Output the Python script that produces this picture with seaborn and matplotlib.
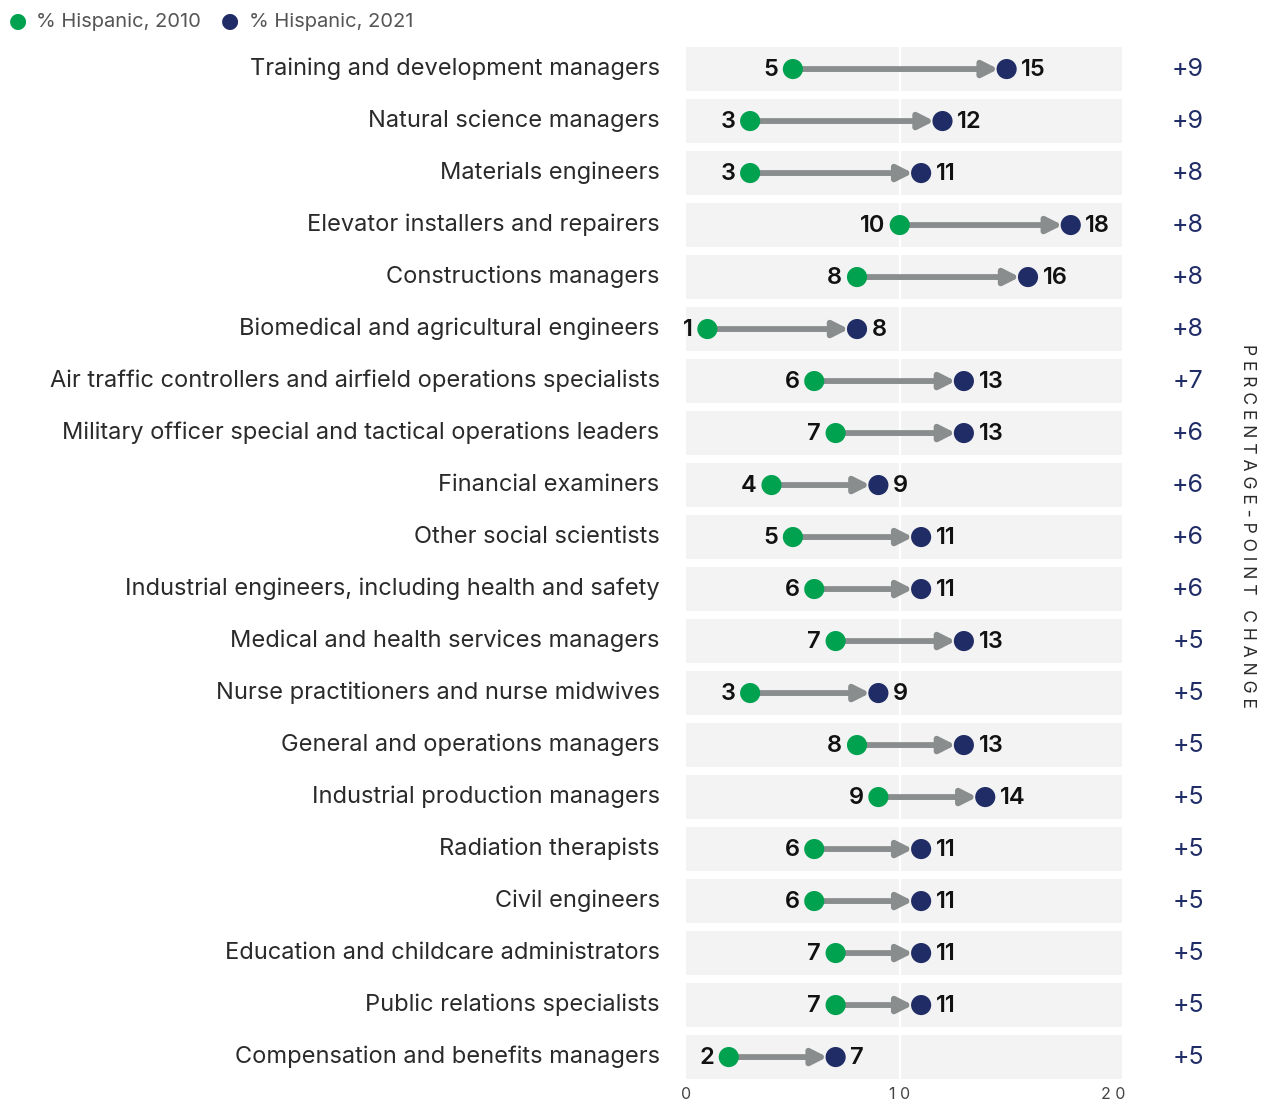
import matplotlib
matplotlib.use("Agg")
import matplotlib.pyplot as plt
import matplotlib.transforms as mtransforms
import seaborn as sns
import pandas as pd

occupations = [
    "Training and development managers",
    "Natural science managers",
    "Materials engineers",
    "Elevator installers and repairers",
    "Constructions managers",
    "Biomedical and agricultural engineers",
    "Air traffic controllers and airfield operations specialists",
    "Military officer special and tactical operations leaders",
    "Financial examiners",
    "Other social scientists",
    "Industrial engineers, including health and safety",
    "Medical and health services managers",
    "Nurse practitioners and nurse midwives",
    "General and operations managers",
    "Industrial production managers",
    "Radiation therapists",
    "Civil engineers",
    "Education and childcare administrators",
    "Public relations specialists",
    "Compensation and benefits managers",
]
pct_2010 = [5, 3, 3, 10, 8, 1, 6, 7, 4, 5, 6, 7, 3, 8, 9, 6, 6, 7, 7, 2]
pct_2021 = [15, 12, 11, 18, 16, 8, 13, 13, 9, 11, 11, 13, 9, 13, 14, 11, 11, 11, 11, 7]
pp_change = [9, 9, 8, 8, 8, 8, 7, 6, 6, 6, 6, 5, 5, 5, 5, 5, 5, 5, 5, 5]
x_ticks = [0, 10, 20]

GREEN = "#00a24f"
NAVY = "#202c66"
ARROW = "#8a8d8d"
BAND = "#f3f3f3"
TEXT = "#2a2a2a"

sns.set_theme(style="white")
plt.rcParams["font.family"] = ["Inter", "DejaVu Sans"]

n = len(occupations)
rows = list(range(n))
long = pd.concat([
    pd.DataFrame({"row": rows, "value": pct_2010, "year": "% Hispanic, 2010"}),
    pd.DataFrame({"row": rows, "value": pct_2021, "year": "% Hispanic, 2021"}),
])

fig = plt.figure(figsize=(12.65, 11.01), dpi=100)
ax = fig.add_axes([0.5423, 0.0163, 0.3447, 0.9446])
ax.set_xlim(0, 20.4)
ax.set_ylim(n - 0.5, -0.5)

# background bands per row
for r in rows:
    ax.axhspan(r - 0.42, r + 0.42, xmin=0, xmax=1, color=BAND, zorder=0, lw=0)
ax.axvline(10, color="white", lw=1.6, zorder=1)

# arrows from 2010 to 2021
for r, a, b in zip(rows, pct_2010, pct_2021):
    ax.annotate("", xy=(b, r), xytext=(a, r),
                arrowprops=dict(arrowstyle="-|>,head_length=0.75,head_width=0.38",
                                color=ARROW, lw=4.2, shrinkA=0, shrinkB=6),
                zorder=2)

sns.scatterplot(data=long, x="value", y="row", hue="year",
                palette={"% Hispanic, 2010": GREEN, "% Hispanic, 2021": NAVY},
                s=210, linewidth=0, zorder=3, ax=ax, legend=False)

# value labels next to each dot
for r, a, b in zip(rows, pct_2010, pct_2021):
    ax.annotate(f"{a:d}", xy=(a, r), xytext=(-10.5, -1), textcoords="offset points",
                ha="right", va="center", fontsize=17, fontweight="semibold", color="#111111")
    ax.annotate(f"{b:d}", xy=(b, r), xytext=(10.5, -1), textcoords="offset points",
                ha="left", va="center", fontsize=17, fontweight="semibold", color="#111111")

# percentage-point change column
for r, c in zip(rows, pp_change):
    ax.annotate(f"+{c:d}", xy=(1, r), xycoords=("axes fraction", "data"),
                xytext=(47.5, -0.5), textcoords="offset points",
                ha="center", va="center", fontsize=18, color=NAVY)

fig.text(0.9858, 0.522, "P E R C E N T A G E - P O I N T   C H A N G E", rotation=-90,
         ha="center", va="center", fontsize=12.6, color=TEXT)

ax.set_yticks(rows)
ax.set_yticklabels(occupations, fontsize=17, color=TEXT)
ax.tick_params(axis="y", length=0, pad=19)
lift = mtransforms.ScaledTranslation(0, 2.5 / 100, fig.dpi_scale_trans)
for lab in ax.get_yticklabels():
    lab.set_transform(lab.get_transform() + lift)
ax.set_xticks(x_ticks)
ax.set_xticklabels([" ".join(str(t)) for t in x_ticks], fontsize=11.5, color="#444444")
ax.tick_params(axis="x", length=0, pad=3)
ax.set_xlabel("")
ax.set_ylabel("")
for s in ax.spines.values():
    s.set_visible(False)

# legend
lx = [0.014, 0.182]
labels = ["% Hispanic, 2010", "% Hispanic, 2021"]
for x0, lab, col in zip(lx, labels, [GREEN, NAVY]):
    fig.text(x0, 0.981, "\u25CF", fontsize=15, color=col, ha="center", va="center",
             family="DejaVu Sans")
    fig.text(x0 + 0.0145, 0.980, lab, fontsize=14.5, color="#555555", ha="left", va="center")

fig.savefig("out.png", dpi=100)
